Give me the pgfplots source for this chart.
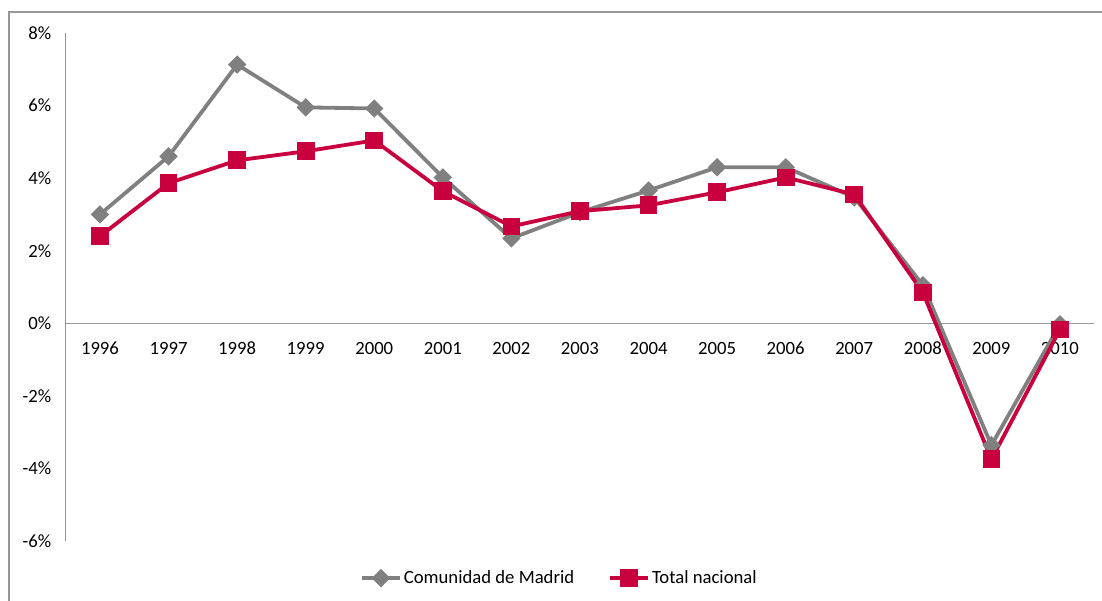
\documentclass[border=0pt]{standalone}
\usepackage{pgfplots}
\pgfplotsset{compat=1.18}
\usepackage{fontspec}
\setmainfont{Carlito}
\definecolor{madrid}{RGB}{128,128,128}
\definecolor{nacional}{RGB}{200,0,62}
\definecolor{axisgray}{RGB}{150,150,150}
\begin{document}
\begin{tikzpicture}
\useasboundingbox (0bp,0bp) rectangle (1102bp,601bp);
\draw[color=axisgray, line width=1.5bp] (9bp,589bp) rectangle (1130bp,-30bp);
\begin{axis}[
  at={(65.7bp,60bp)}, anchor=south west,
  scale only axis, width=1028.6bp, height=508bp,
  xmin=1995.5, xmax=2010.5, ymin=-6, ymax=8,
  axis x line=middle, axis y line=left,
  axis line style={color=axisgray, line width=1bp, -},
  xtick={1996,...,2010},
  xticklabels={1996,1997,1998,1999,2000,2001,2002,2003,2004,2005,2006,2007,2008,2009,2010},
  ytick={-6,-4,...,8},
  yticklabels={-6\%,-4\%,-2\%,0\%,2\%,4\%,6\%,8\%},
  major tick length=0pt,
  font=\fontsize{18.7bp}{22bp}\selectfont,
  tick label style={font=\fontsize{18.7bp}{22bp}\selectfont, text=black},
  yticklabel style={xshift=-11bp},
  xticklabel style={yshift=-15bp, text height=12.5bp, text depth=0pt},
  legend image code/.code={
    \draw[#1, mark repeat=2, mark phase=2] plot coordinates {(0bp,0bp) (19bp,0bp) (38bp,0bp)};
  },
  legend style={at={(0.48,-0.073)}, anchor=center, draw=none, legend columns=2,
    font=\fontsize{18.7bp}{22bp}\selectfont,
    /tikz/every even column/.append style={column sep=32bp}},
  legend cell align=left,
  clip=false,
]
\addplot[color=madrid, line width=3.8bp, mark=square*, mark size=4.6bp, mark options={solid, rotate=45}] coordinates {
(1996,3.00) (1997,4.60) (1998,7.13) (1999,5.95) (2000,5.92) (2001,4.02) (2002,2.34) (2003,3.06)
(2004,3.66) (2005,4.30) (2006,4.30) (2007,3.47) (2008,1.05) (2009,-3.36) (2010,-0.03)};
\addlegendentry{Comunidad de Madrid}
\addplot[color=nacional, line width=3.8bp, mark=square*, mark size=7bp, mark options={solid}] coordinates {
(1996,2.40) (1997,3.86) (1998,4.49) (1999,4.74) (2000,5.04) (2001,3.64) (2002,2.67) (2003,3.09)
(2004,3.25) (2005,3.61) (2006,4.02) (2007,3.55) (2008,0.85) (2009,-3.75) (2010,-0.17)};
\addlegendentry{Total nacional}
\end{axis}
\end{tikzpicture}
\end{document}
